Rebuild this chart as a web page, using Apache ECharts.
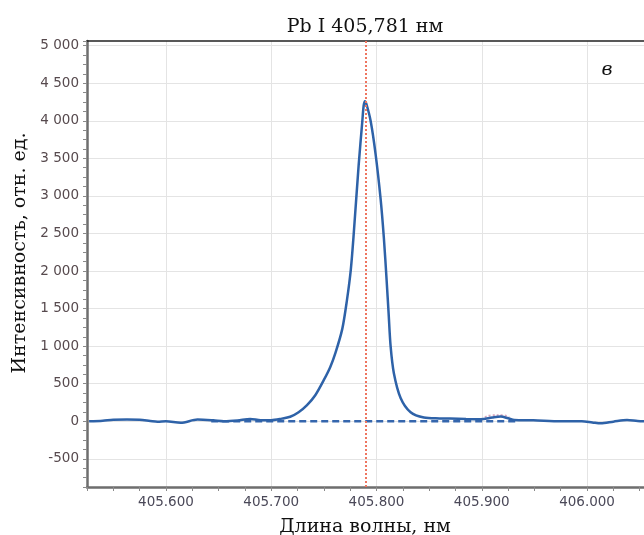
<!DOCTYPE html>
<html>
<head>
<meta charset="utf-8">
<script src="https://cdn.jsdelivr.net/npm/echarts@6/dist/echarts.min.js"></script>
<style>
html,body{margin:0;padding:0;background:#fff;}
#chart{width:644px;height:535px;}
</style>
</head>
<body>
<div id="chart"></div>
<script>
// Data
const wavelengths = [405.527, 405.540, 405.550, 405.563, 405.575, 405.585, 405.592, 405.600, 405.614, 405.630,
  405.645, 405.655, 405.668, 405.680, 405.690, 405.700, 405.710, 405.718, 405.726, 405.734,
  405.742, 405.750, 405.756, 405.761, 405.7675, 405.772, 405.7756, 405.7785, 405.783, 405.7865,
  405.7878, 405.789, 405.7905, 405.7944, 405.7991, 405.8039, 405.807, 405.8096, 405.8115, 405.8134,
  405.8165, 405.8229, 405.8324, 405.845, 405.860, 405.870, 405.885, 405.899, 405.910, 405.918,
  405.925, 405.931, 405.949, 405.975, 405.995, 406.005, 406.013, 406.025, 406.038, 406.048, 406.058];
const intensity = [0, 8, 20, 22, 20, 5, -5, 0, -20, 22,
  12, 0, 10, 30, 15, 15, 35, 60, 120, 215,
  350, 550, 720, 910, 1230, 1620, 2020, 2520, 3400, 3990,
  4200, 4260, 4220, 4000, 3560, 2960, 2440, 1880, 1440, 1000,
  640, 310, 120, 50, 38, 36, 30, 27, 50, 62,
  40, 17, 13, 0, 0, -15, -27, -5, 17, 5, 0];
const baselineX = [405.643, 405.934];
const baselineY = [0, 0];
const bumpX = [405.903, 405.910, 405.920, 405.926];
const bumpY = [55, 80, 80, 55];
const lineWavelength = 405.7935;
const titleText = 'Pb I 405,781 нм';
const xName = 'Длина волны, нм';
const yName = 'Интенсивность, отн. ед.';
const panelLetter = 'в';

const xMin = 405.525, xMax = 406.075, xStep = 0.025;
const yMin = -875, yMax = 5062, yStep = 125;

const zip = (a, b) => a.map((v, i) => [v, b[i]]);
const isMult = (v, m) => Math.abs(v / m - Math.round(v / m)) < 1e-6;
const fmtY = v => (v < 0 ? '-' : '') + String(Math.abs(Math.round(v))).replace(/\B(?=(\d{3})+(?!\d))/g, ' ');
const gridCol = ['transparent', 'transparent', 'transparent', '#e4e4e4'];

const chart = echarts.init(document.getElementById('chart'), null, {renderer: 'canvas'});
chart.setOption({
  animation: false,
  backgroundColor: '#ffffff',
  grid: {left: 87, top: 41, width: 579, height: 446, containLabel: false, outerBoundsMode: 'none'},
  xAxis: [{
    type: 'value', min: xMin, max: xMax, interval: xStep,
    axisLine: {show: true, onZero: false, lineStyle: {color: '#6e6e6e', width: 2.5}},
    axisTick: {show: true, length: 4, lineStyle: {color: '#8a8a8a', width: 1}},
    axisLabel: {
      margin: 8, color: '#4a4858', fontFamily: 'DejaVu Sans', fontSize: 13.5,
      formatter: v => isMult(v, 0.1) ? v.toFixed(3) : ''
    },
    splitLine: {show: true, lineStyle: {color: gridCol, width: 1}}
  }, {
    type: 'value', position: 'top', min: xMin, max: xMax,
    axisLine: {show: true, onZero: false, lineStyle: {color: '#222', width: 1.5}},
    axisTick: {show: false}, axisLabel: {show: false}, splitLine: {show: false}
  }],
  yAxis: {
    type: 'value', min: yMin, max: yMax, interval: yStep,
    axisLine: {show: true, onZero: false, lineStyle: {color: '#6e6e6e', width: 2.5}},
    axisTick: {show: true, length: 4, lineStyle: {color: '#8a8a8a', width: 1}},
    axisLabel: {
      margin: 8, color: '#574a4e', fontFamily: 'DejaVu Sans', fontSize: 13.5,
      formatter: v => isMult(v, 500) ? fmtY(v) : ''
    },
    splitLine: {show: true, lineStyle: {color: gridCol, width: 1}}
  },
  series: [{
    type: 'line', data: zip(baselineX, baselineY), showSymbol: false, silent: true,
    lineStyle: {color: '#3566ad', width: 2.5, type: [7, 4]}
  }, {
    type: 'line', data: zip(bumpX, bumpY), showSymbol: false, silent: true, smooth: true,
    lineStyle: {color: '#d8a6bf', width: 2, type: 'dotted'}
  }, {
    type: 'line', data: zip(wavelengths, intensity), showSymbol: false, smooth: 0.3,
    lineStyle: {color: '#2e62a8', width: 2.5},
    markLine: {
      silent: true, symbol: 'none', label: {show: false},
      lineStyle: {color: '#ee7560', width: 2, type: [2, 2]},
      data: [{xAxis: lineWavelength}]
    }
  }],
  graphic: [
    {type: 'text', x: 365, y: 27, style: {text: titleText, align: 'center', verticalAlign: 'middle', fontFamily: 'DejaVu Serif', fontSize: 19, fill: '#111'}},
    {type: 'text', x: 365, y: 527, style: {text: xName, align: 'center', verticalAlign: 'middle', fontFamily: 'DejaVu Serif', fontSize: 19, fill: '#111'}},
    {type: 'text', x: 20, y: 253, rotation: Math.PI / 2, style: {text: yName, align: 'center', verticalAlign: 'middle', fontFamily: 'DejaVu Serif', fontSize: 19, fill: '#111'}},
    {type: 'text', x: 607, y: 70, style: {text: panelLetter, align: 'center', verticalAlign: 'middle', fontFamily: 'DejaVu Serif', fontStyle: 'italic', fontSize: 19, fill: '#111'}}
  ]
});
</script>
</body>
</html>
